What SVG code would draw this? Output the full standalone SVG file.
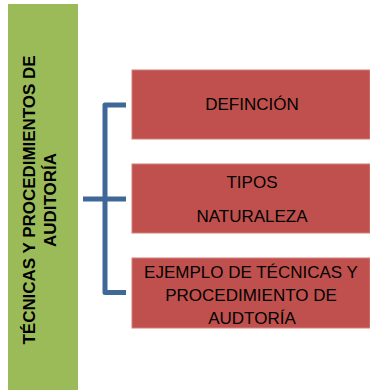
<svg xmlns="http://www.w3.org/2000/svg" width="370" height="391" viewBox="0 0 370 391">
  <style>
    .title { font-family: "Liberation Sans", Arial, sans-serif; font-weight: bold; font-size: 16px; fill: #000; }
    .box { fill: #C0504D; stroke: #D27E7B; stroke-width: 1; }
    .lbl { font-family: "Liberation Sans", Arial, sans-serif; font-size: 17px; fill: #000; text-anchor: middle; }
    .bracket { fill: none; stroke: #3F6899; stroke-width: 5; stroke-linejoin: round; stroke-linecap: butt; }
  </style>
  <rect width="370" height="391" fill="#fff"/>
  <g id="main">
    <rect x="8" y="4" width="70" height="386" fill="#9BBB59"/>
    <text class="title" text-anchor="middle" transform="translate(34.5,200) rotate(-90)" textLength="289" lengthAdjust="spacingAndGlyphs">TÉCNICAS Y PROCEDIMIENTOS DE</text>
    <text class="title" text-anchor="middle" transform="translate(55.5,200) rotate(-90)" textLength="94" lengthAdjust="spacingAndGlyphs">AUDITORÍA</text>
  </g>
  <g id="connectors">
    <path class="bracket" d="M126,105 H105 V292.5 H126"/>
    <path class="bracket" d="M83,199 H126"/>
  </g>
  <g id="definicion">
    <rect class="box" x="132" y="70" width="238" height="69"/>
    <text class="lbl" x="252" y="110">DEFINCIÓN</text>
  </g>
  <g id="tipos">
    <rect class="box" x="132" y="164" width="238" height="69"/>
    <text class="lbl" x="252" y="188">TIPOS</text>
    <text class="lbl" x="252" y="221.5">NATURALEZA</text>
  </g>
  <g id="ejemplo">
    <rect class="box" x="132" y="258" width="238" height="70"/>
    <text class="lbl" x="251" y="278">EJEMPLO DE TÉCNICAS Y</text>
    <text class="lbl" x="251" y="301">PROCEDIMIENTO DE</text>
    <text class="lbl" x="252" y="324">AUDTORÍA</text>
  </g>
</svg>
